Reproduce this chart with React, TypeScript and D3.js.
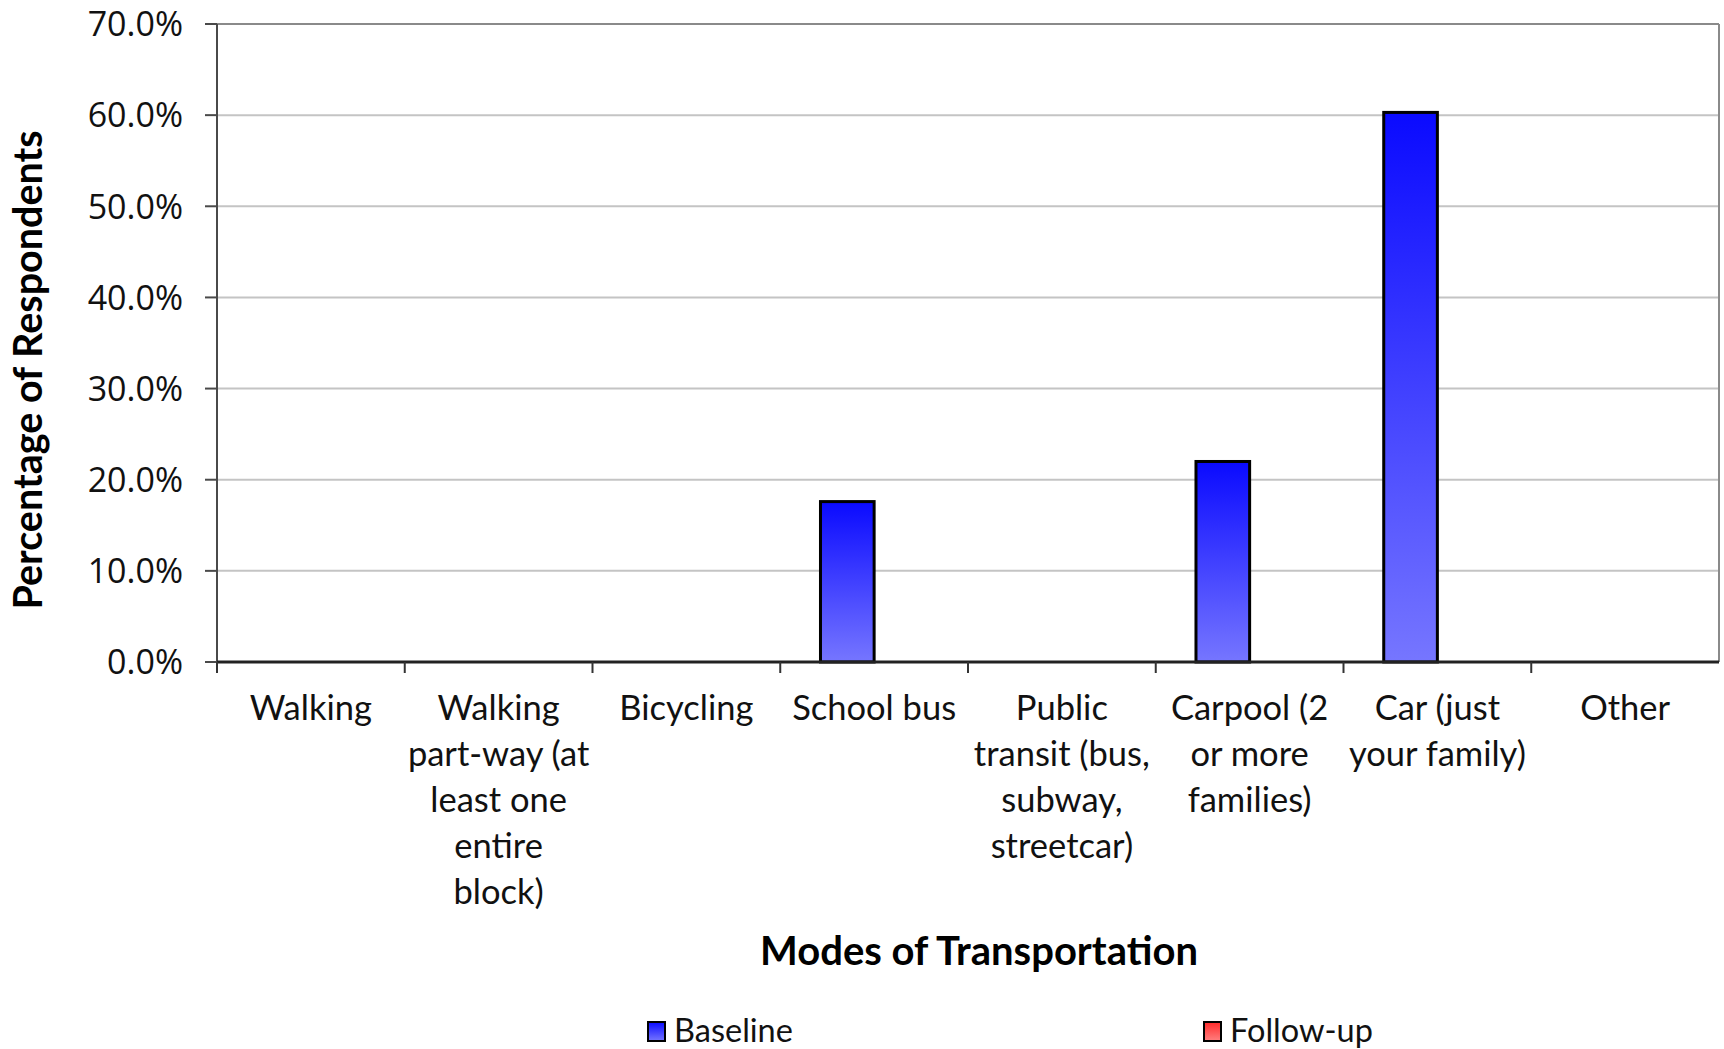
import * as d3 from 'd3';
import React from 'react';

const categories = [
  ['Walking'],
  ['Walking', 'part-way (at', 'least one', 'entire', 'block)'],
  ['Bicycling'],
  ['School bus'],
  ['Public', 'transit (bus,', 'subway,', 'streetcar)'],
  ['Carpool (2', 'or more', 'families)'],
  ['Car (just', 'your family)'],
  ['Other'],
];
const seriesNames = ['Baseline', 'Follow-up'];
const baseline = [0, 0, 0, 17.6, 0, 22.0, 60.3, 0];
const followUp: (number | null)[] = [null, null, null, null, null, null, null, null];
const yTicks = [0, 10, 20, 30, 40, 50, 60, 70];

const W = 1724;
const H = 1049;
const margin = { top: 24, right: 5, bottom: 387, left: 217 };
const labelFont = 'Lato, "Open Sans", sans-serif';

export default function App() {
  const innerW = W - margin.left - margin.right;
  const innerH = H - margin.top - margin.bottom;
  const keys = categories.map((c, i) => String(i));

  const x = d3.scaleBand().domain(keys).range([0, innerW]).padding(0);
  const xs = d3
    .scaleBand()
    .domain(seriesNames)
    .range([0, x.bandwidth()])
    .paddingInner(0)
    .paddingOuter(0.75);
  const y = d3.scaleLinear().domain([0, 70]).range([innerH, 0]);
  const fmt = d3.format('.1f');

  const series = [
    { name: 'Baseline', values: baseline as (number | null)[], grad: 'gBlue' },
    { name: 'Follow-up', values: followUp, grad: 'gRed' },
  ];

  return (
    <div style={{ position: 'absolute', left: 0, top: 0 }}>
      <svg width={W} height={H} style={{ display: 'block', background: '#fff' }}>
        <defs>
          <linearGradient id="gBlue" x1="0" y1="0" x2="0" y2="1">
            <stop offset="0%" stopColor="#0a0aff" />
            <stop offset="100%" stopColor="#7676ff" />
          </linearGradient>
          <linearGradient id="gRed" x1="0" y1="0" x2="0" y2="1">
            <stop offset="0%" stopColor="#ff2a2a" />
            <stop offset="100%" stopColor="#ff8080" />
          </linearGradient>
        </defs>
        <g transform={`translate(${margin.left},${margin.top})`}>
          {/* gridlines */}
          {yTicks.slice(1, -1).map(t => (
            <line key={t} x1={0} x2={innerW} y1={y(t)} y2={y(t)} stroke="#c4c4c4" strokeWidth={2} />
          ))}
          {/* plot frame */}
          <line x1={0} x2={innerW} y1={y(70)} y2={y(70)} stroke="#8a8a8a" strokeWidth={2} />
          <line x1={innerW} x2={innerW} y1={y(70)} y2={innerH} stroke="#8a8a8a" strokeWidth={2} />

          {/* bars */}
          {series.map(s =>
            s.values.map((v, i) =>
              v == null ? null : (
                <rect
                  key={s.name + i}
                  x={(x(keys[i]) ?? 0) + (xs(s.name) ?? 0)}
                  y={y(v)}
                  width={xs.bandwidth()}
                  height={innerH - y(v)}
                  fill={`url(#${s.grad})`}
                  stroke="#000"
                  strokeWidth={3}
                />
              )
            )
          )}

          {/* y axis */}
          <line x1={0} x2={0} y1={y(70)} y2={innerH} stroke="#4a4a4a" strokeWidth={2} />
          {yTicks.map(t => (
            <g key={t} transform={`translate(0,${y(t)})`}>
              <line x1={-12} x2={0} stroke="#4a4a4a" strokeWidth={2} />
              <text
                x={-34}
                dy="0.36em"
                textAnchor="end"
                fontFamily='"Open Sans", sans-serif'
                fontSize={34}
                fill="#111"
              >
                {fmt(t)}%
              </text>
            </g>
          ))}

          {/* x axis */}
          <line x1={0} x2={innerW} y1={innerH} y2={innerH} stroke="#222" strokeWidth={3} />
          {keys.map(k => (
            <line
              key={k}
              x1={x(k) ?? 0}
              x2={x(k) ?? 0}
              y1={innerH}
              y2={innerH + 11}
              stroke="#333"
              strokeWidth={2}
            />
          ))}
          {categories.map((lines, i) => (
            <text
              key={i}
              x={(x(keys[i]) ?? 0) + x.bandwidth() / 2}
              y={innerH + 58}
              textAnchor="middle"
              fontFamily={labelFont}
              fontSize={34.5}
              fill="#111"
            >
              {lines.map((l, j) => (
                <tspan key={j} x={(x(keys[i]) ?? 0) + x.bandwidth() / 2} dy={j === 0 ? 0 : 46}>
                  {l}
                </tspan>
              ))}
            </text>
          ))}
        </g>

        {/* axis titles */}
        <text
          transform={`translate(42,370) rotate(-90)`}
          textAnchor="middle"
          fontFamily={labelFont}
          fontWeight="bold"
          fontSize={39.5}
          fill="#000"
        >
          Percentage of Respondents
        </text>
        <text
          x={979}
          y={965}
          textAnchor="middle"
          fontFamily={labelFont}
          fontWeight="bold"
          fontSize={40}
          fill="#000"
        >
          Modes of Transportation
        </text>

        {/* legend */}
        {series.map((s, i) => {
          const lx = i === 0 ? 648 : 1204;
          return (
            <g key={s.name} transform={`translate(${lx},1022)`}>
              <rect width={17} height={19} fill={`url(#${s.grad})`} stroke="#000" strokeWidth={2} />
              <text x={26} y={20} fontFamily={labelFont} fontSize={32.5} fill="#111">
                {s.name}
              </text>
            </g>
          );
        })}
      </svg>
    </div>
  );
}
